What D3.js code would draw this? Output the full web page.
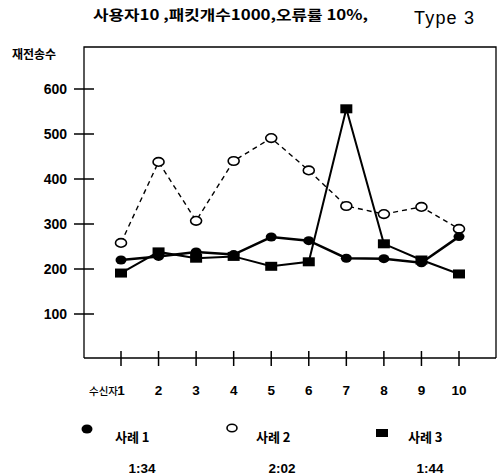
<!DOCTYPE html>
<html><head><meta charset="utf-8">
<script src="https://cdn.jsdelivr.net/npm/d3@7"></script>
<style>body{margin:0;background:#fff}svg{display:block}</style>
</head><body>
<script>
const receivers = [1,2,3,4,5,6,7,8,9,10];
const case1 = [220, 228, 238, 232, 271, 263, 224, 223, 214, 272];
const case2 = [258, 438, 307, 440, 491, 419, 340, 322, 338, 289];
const case3 = [191, 238, 224, 228, 206, 216, 556, 256, 220, 189];
const yTicks = [100, 200, 300, 400, 500, 600];
const seriesNames = ["사례 1", "사례 2", "사례 3"];
const seriesTimes = ["1:34", "2:02", "1:44"];
const title = "사용자10 ,패킷개수1000,오류률 10%,";
const typeLabel = "Type 3";
const yTitle = "재전송수";
const xFirstPrefix = "수신자";

const W = 504, H = 476;
const frame = {left: 84, right: 496, top: 47, bottom: 358};
const kr = "'Noto Sans CJK KR', sans-serif";
const lat = "'Liberation Sans', Arial, sans-serif";

const svg = d3.select("body").append("svg").attr("width", W).attr("height", H);
const x = d3.scaleLinear().domain([1, 10]).range([121, 459]);
const y = d3.scaleLinear().domain([0, 100]).range([359, 314]);

// frame
svg.append("path")
  .attr("d", `M${frame.left},${frame.bottom}V${frame.top}H${frame.right}V${frame.bottom}`)
  .attr("fill", "none").attr("stroke", "#000").attr("stroke-width", 1.3);
svg.append("line").attr("x1", frame.left).attr("x2", frame.right)
  .attr("y1", frame.bottom).attr("y2", frame.bottom)
  .attr("stroke", "#000").attr("stroke-width", 1.5);

// y ticks
const gy = svg.append("g");
gy.selectAll("line").data(yTicks).join("line")
  .attr("x1", frame.left - 10).attr("x2", frame.left + 10)
  .attr("y1", d => y(d)).attr("y2", d => y(d))
  .attr("stroke", "#000").attr("stroke-width", 1.5);
gy.selectAll("text").data(yTicks).join("text")
  .attr("x", 67).attr("y", d => y(d)).attr("dy", "0.36em")
  .attr("text-anchor", "end").attr("font-family", lat).attr("font-weight", "bold")
  .attr("font-size", 14).text(d => d);

// x ticks
const gx = svg.append("g");
gx.selectAll("line").data(receivers).join("line")
  .attr("x1", d => x(d)).attr("x2", d => x(d))
  .attr("y1", frame.bottom - 7).attr("y2", frame.bottom + 8)
  .attr("stroke", "#000").attr("stroke-width", 1.5);
gx.selectAll("text").data(receivers).join("text")
  .attr("x", d => x(d)).attr("y", 395)
  .attr("text-anchor", "middle").attr("font-family", lat).attr("font-weight", "bold")
  .attr("font-size", 13.5).text(d => d);
svg.append("text").attr("x", x(1) - 3).attr("y", 395).attr("text-anchor", "end")
  .attr("font-family", kr).attr("font-weight", "500").attr("font-size", 10.5)
  .text(xFirstPrefix);

// titles
svg.append("text").attr("x", 93).attr("y", 20).attr("font-family", kr)
  .attr("font-weight", "bold").attr("font-size", 14).attr("textLength", 275)
  .attr("lengthAdjust", "spacingAndGlyphs")
  .text(title);
svg.append("text").attr("x", 414).attr("y", 24).attr("font-family", lat)
  .attr("font-size", 18).attr("letter-spacing", 1.2).text(typeLabel);
svg.append("text").attr("x", 12).attr("y", 59).attr("font-family", kr)
  .attr("font-weight", "bold").attr("font-size", 12).text(yTitle);

// lines
const line = d3.line().x((d, i) => x(receivers[i])).y(d => y(d));
svg.append("path").attr("d", line(case2)).attr("fill", "none")
  .attr("stroke", "#000").attr("stroke-width", 1.4).attr("stroke-dasharray", "5,4");
svg.append("path").attr("d", line(case1)).attr("fill", "none")
  .attr("stroke", "#000").attr("stroke-width", 2.5);
svg.append("path").attr("d", line(case3)).attr("fill", "none")
  .attr("stroke", "#000").attr("stroke-width", 2);

// markers
svg.append("g").selectAll("ellipse").data(case2).join("ellipse")
  .attr("cx", (d, i) => x(receivers[i])).attr("cy", d => y(d))
  .attr("rx", 5.5).attr("ry", 4.3).attr("fill", "#fff").attr("stroke", "#000").attr("stroke-width", 1.6);
svg.append("g").selectAll("ellipse").data(case1).join("ellipse")
  .attr("cx", (d, i) => x(receivers[i])).attr("cy", d => y(d))
  .attr("rx", 5.5).attr("ry", 4.5).attr("fill", "#000");
svg.append("g").selectAll("rect").data(case3).join("rect")
  .attr("x", (d, i) => x(receivers[i]) - 6).attr("y", d => y(d) - 4.5)
  .attr("width", 12).attr("height", 9).attr("fill", "#000");

// legend
const legX = [87, 232, 382];
const lg = svg.append("g");
lg.append("ellipse").attr("cx", legX[0]).attr("cy", 429).attr("rx", 5.5).attr("ry", 4.5).attr("fill", "#000");
lg.append("ellipse").attr("cx", legX[1]).attr("cy", 428).attr("rx", 5).attr("ry", 3.7)
  .attr("fill", "#fff").attr("stroke", "#000").attr("stroke-width", 1.6);
lg.append("rect").attr("x", legX[2] - 6).attr("y", 429).attr("width", 12).attr("height", 8).attr("fill", "#000");
const nameX = [115, 256, 408];
lg.selectAll("text.n").data(seriesNames).join("text").attr("class", "n")
  .attr("x", (d, i) => nameX[i]).attr("y", 442).attr("font-family", kr)
  .attr("font-weight", "bold").attr("font-size", 13).text(d => d);
const timeX = [142, 282, 430];
lg.selectAll("text.t").data(seriesTimes).join("text").attr("class", "t")
  .attr("x", (d, i) => timeX[i]).attr("y", 473).attr("text-anchor", "middle")
  .attr("font-family", lat).attr("font-weight", "bold").attr("font-size", 13.5).text(d => d);
</script>
</body></html>
